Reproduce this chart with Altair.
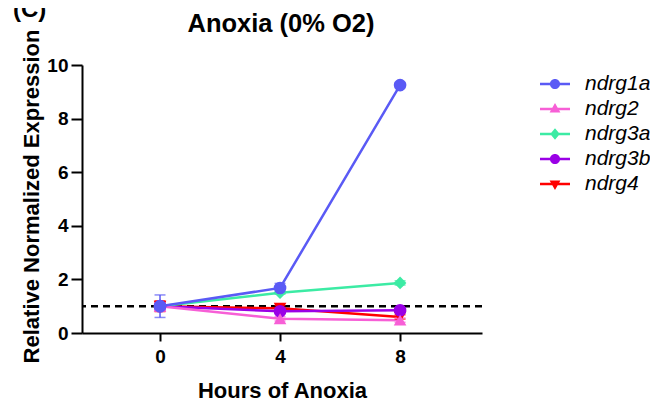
import altair as alt
import pandas as pd

hours = [0, 4, 8]
genes = ["ndrg1a", "ndrg2", "ndrg3a", "ndrg3b", "ndrg4"]
colors = ["#5a5af5", "#f75fd6", "#3ceba4", "#9a00e6", "#ff0000"]
shapes = ["circle", "triangle-up", "diamond", "circle", "triangle-down"]

ndrg1a = [1.0, 1.68, 9.25]
ndrg2 = [1.0, 0.53, 0.48]
ndrg3a = [1.0, 1.50, 1.87]
ndrg3b = [1.0, 0.81, 0.85]
ndrg4 = [1.0, 0.92, 0.60]

err_ndrg1a = [0.42, 0.17, 0.10]
err_ndrg2 = [0.15, 0.08, 0.08]
err_ndrg3a = [0.10, 0.05, 0.08]
err_ndrg3b = [0.15, 0.06, 0.06]
err_ndrg4 = [0.20, 0.10, 0.08]

title_text = "Anoxia (0% O2)"
panel_text = "(C)"

means = [ndrg1a, ndrg2, ndrg3a, ndrg3b, ndrg4]
errs = [err_ndrg1a, err_ndrg2, err_ndrg3a, err_ndrg3b, err_ndrg4]

rows = []
# draw ndrg1a last so it sits on top
for gi in reversed(range(len(genes))):
    for h, m, e in zip(hours, means[gi], errs[gi]):
        rows.append({"gene": genes[gi], "hours": h, "value": m,
                     "lo": m - e, "hi": m + e, "ord": len(genes) - gi})
df = pd.DataFrame(rows)

FONT = "Liberation Sans"

# legend symbols: marker with a line through it (unit square -1..1)
seg = "M-1,-0.085H1V0.085H-1Z "
circ = "M-0.34,0A0.34,0.34 0 1,1 0.34,0A0.34,0.34 0 1,1 -0.34,0Z"
tri_up = "M0,-0.4L0.36,0.24L-0.36,0.24Z"
diam = "M0,-0.38L0.32,0L0,0.38L-0.32,0Z"
tri_dn = "M-0.36,-0.24L0.36,-0.24L0,0.4Z"
legend_paths = [seg + circ, seg + tri_up, seg + diam, seg + circ, seg + tri_dn]

x_enc = alt.X("hours:Q", scale=alt.Scale(domain=[-2.6, 10.73], nice=False, zero=False),
              axis=alt.Axis(values=hours, title="Hours of Anoxia", tickSize=8,
                            labelPadding=6, titleFontSize=22, titleFont=FONT,
                            titleFontWeight="bold", titleColor="black",
                            titleBaseline="alphabetic", titleY=64, titleX=200))
y_scale = alt.Scale(domain=[0, 10], nice=False, zero=False)
y_enc = alt.Y("value:Q", scale=y_scale,
              axis=alt.Axis(values=[0, 2, 4, 6, 8, 10], title="Relative Normalized Expression",
                            tickSize=11, labelPadding=3, titleFontSize=22, titleFont=FONT,
                            titleFontWeight="bold", titleColor="black",
                            titleBaseline="alphabetic", titleX=-44, titleY=131,
                            titleAngle=-90))

def cscale():
    return alt.Scale(domain=genes, range=colors)

base = alt.Chart(df)

dashed = alt.Chart(pd.DataFrame({"ref": [1.0]})).mark_rule(
    color="black", strokeWidth=2.5, strokeDash=[7, 5]
).encode(y=alt.Y("ref:Q", scale=y_scale))

lines = base.mark_line(strokeWidth=2.5).encode(
    x=x_enc, y=y_enc,
    color=alt.Color("gene:N", scale=cscale(), legend=None),
    order="ord:Q",
)

err_rule = base.mark_rule(strokeWidth=1.5).encode(
    x="hours:Q", y=alt.Y("lo:Q", scale=y_scale), y2="hi:Q",
    color=alt.Color("gene:N", scale=cscale(), legend=None),
)
err_lo = base.mark_tick(orient="horizontal", size=11, thickness=1.5).encode(
    x="hours:Q", y=alt.Y("lo:Q", scale=y_scale),
    color=alt.Color("gene:N", scale=cscale(), legend=None),
)
err_hi = base.mark_tick(orient="horizontal", size=11, thickness=1.5).encode(
    x="hours:Q", y=alt.Y("hi:Q", scale=y_scale),
    color=alt.Color("gene:N", scale=cscale(), legend=None),
)

points = base.mark_point(filled=True, opacity=1, size=160).encode(
    x="hours:Q", y=alt.Y("value:Q", scale=y_scale),
    color=alt.Color("gene:N", scale=cscale(), legend=None),
    shape=alt.Shape("gene:N", scale=alt.Scale(domain=genes, range=shapes), legend=None),
)

leg_kwargs = dict(title=None, orient="none", legendX=458, legendY=4,
                  symbolSize=900, symbolStrokeWidth=0, symbolOpacity=1,
                  labelFont=FONT, labelFontSize=21, labelFontStyle="italic",
                  labelColor="black", labelOffset=15, rowPadding=-2.5, padding=0)

legend_layer = base.mark_point(filled=True, opacity=0, size=10).encode(
    x="hours:Q", y=alt.Y("value:Q", scale=y_scale),
    color=alt.Color("gene:N", scale=cscale(), legend=alt.Legend(**leg_kwargs)),
    shape=alt.Shape("gene:N", scale=alt.Scale(domain=genes, range=legend_paths),
                    legend=alt.Legend(**leg_kwargs)),
)

label_c = alt.Chart(pd.DataFrame({"t": [panel_text]})).mark_text(
    align="left", baseline="alphabetic", font=FONT, fontSize=24,
    fontWeight="bold", color="black"
).encode(x=alt.value(-69), y=alt.value(-48), text="t:N")

title_mark = alt.Chart(pd.DataFrame({"t": [title_text]})).mark_text(
    align="center", baseline="alphabetic", font=FONT, fontSize=25.5,
    fontWeight="bold", color="black"
).encode(x=alt.value(199), y=alt.value(-33), text="t:N")

chart = alt.layer(
    dashed, lines, err_rule, err_lo, err_hi, points, legend_layer, label_c, title_mark
).resolve_scale(color="independent", shape="independent").properties(
    width=400, height=268,
    autosize=alt.AutoSizeParams(type="none"),
    padding={"left": 74, "top": 57, "right": 168, "bottom": 67},
).configure_view(stroke=None).configure_axis(
    grid=False, domainColor="black", domainWidth=2, tickColor="black", tickWidth=2,
    labelFont=FONT, labelFontSize=19, labelFontWeight="bold", labelColor="black",
)

chart.save("out.html", embed_options={"renderer": "svg", "actions": False})
